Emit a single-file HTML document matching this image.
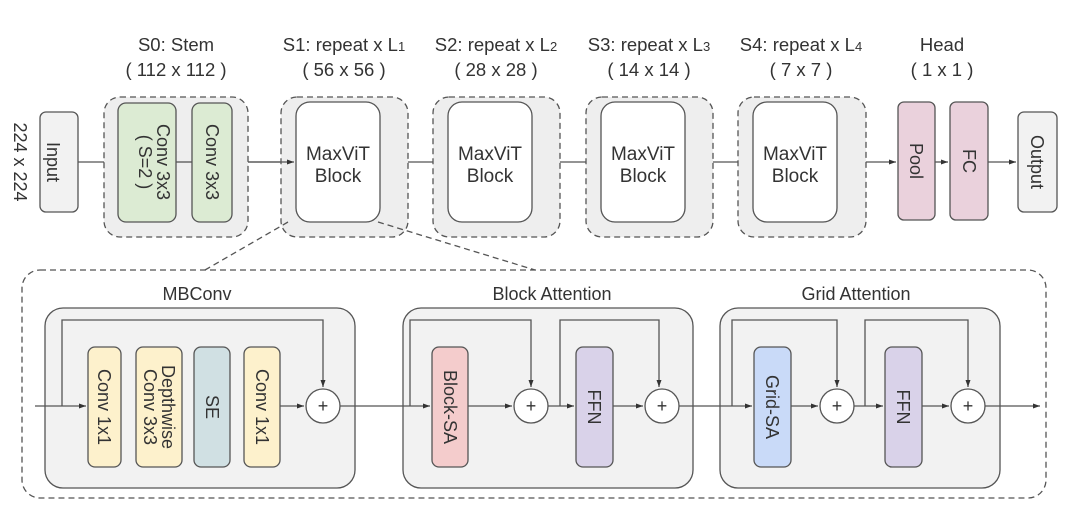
<!DOCTYPE html>
<html><head><meta charset="utf-8"><style>
html,body{margin:0;padding:0;background:#fff}
svg{display:block;font-family:"Liberation Sans",sans-serif}
</style></head><body>
<svg width="1080" height="522" viewBox="0 0 1080 522" xmlns="http://www.w3.org/2000/svg">
<defs><marker id="a" markerWidth="8" markerHeight="8" refX="7" refY="4" orient="auto" markerUnits="userSpaceOnUse"><path d="M0,1.5 L7,4 L0,6.5z" fill="#333"/></marker></defs>
<g font-size="18.5" fill="#333" text-anchor="middle">
<text x="176" y="51">S0: Stem</text><text x="176" y="76">( 112 x 112 )</text>
<text x="344" y="51">S1: repeat x L<tspan font-size="13">1</tspan></text><text x="344" y="76">( 56 x 56 )</text>
<text x="496" y="51">S2: repeat x L<tspan font-size="13">2</tspan></text><text x="496" y="76">( 28 x 28 )</text>
<text x="649" y="51">S3: repeat x L<tspan font-size="13">3</tspan></text><text x="649" y="76">( 14 x 14 )</text>
<text x="801" y="51">S4: repeat x L<tspan font-size="13">4</tspan></text><text x="801" y="76">( 7 x 7 )</text>
<text x="942" y="51">Head</text><text x="942" y="76">( 1 x 1 )</text>
</g>
<text x="0" y="0" font-size="18" fill="#333" text-anchor="middle" transform="translate(14,162) rotate(90)">224 x 224</text>
<g stroke="#555" stroke-width="1.3">
<line x1="78" y1="162" x2="896" y2="162" marker-end="url(#a)"/>
<line x1="988" y1="162" x2="1016" y2="162" marker-end="url(#a)"/>
<line x1="935" y1="162" x2="948" y2="162" marker-end="url(#a)"/>
<rect x="40" y="112" width="38" height="100" rx="6" fill="#f2f2f2"/>
<g fill="#eeeeee" stroke-dasharray="6,4">
<rect x="104" y="97" width="144" height="140" rx="16"/>
<rect x="281" y="97" width="127" height="140" rx="16"/>
<rect x="433" y="97" width="127" height="140" rx="16"/>
<rect x="586" y="97" width="127" height="140" rx="16"/>
<rect x="738" y="97" width="128" height="140" rx="16"/>
</g>
<line x1="176" y1="162" x2="192" y2="162"/>
<rect x="118" y="103" width="58" height="119" rx="8" fill="#dcebd3"/>
<rect x="192" y="103" width="40" height="119" rx="8" fill="#dcebd3"/>
<line x1="248" y1="162" x2="294" y2="162" marker-end="url(#a)"/>
<rect x="296" y="102" width="84" height="120" rx="14" fill="#fff"/>
<rect x="448" y="102" width="84" height="120" rx="14" fill="#fff"/>
<rect x="601" y="102" width="84" height="120" rx="14" fill="#fff"/>
<rect x="753" y="102" width="84" height="120" rx="14" fill="#fff"/>
<rect x="898" y="102" width="37" height="118" rx="6" fill="#ead1dc"/>
<rect x="950" y="102" width="38" height="118" rx="6" fill="#ead1dc"/>
<rect x="1018" y="112" width="39" height="100" rx="6" fill="#f2f2f2"/>
<g stroke-dasharray="6,4" fill="none">
<line x1="288" y1="222" x2="205" y2="270"/>
<line x1="378" y1="222" x2="535" y2="270"/>
<rect x="22" y="270" width="1024" height="228" rx="18" fill="none"/>
</g>
<rect x="45" y="308" width="310" height="180" rx="18" fill="#f2f2f2"/>
<rect x="403" y="308" width="290" height="180" rx="18" fill="#f2f2f2"/>
<rect x="720" y="308" width="280" height="180" rx="18" fill="#f2f2f2"/>
<g fill="none">
<line x1="35" y1="406" x2="86" y2="406" marker-end="url(#a)"/>
<polyline points="62,406 62,320 323,320 323,387" marker-end="url(#a)"/>
<line x1="280" y1="406" x2="304" y2="406" marker-end="url(#a)"/>
<line x1="340" y1="406" x2="430" y2="406" marker-end="url(#a)"/>
<polyline points="410,406 410,320 531,320 531,387" marker-end="url(#a)"/>
<line x1="468" y1="406" x2="512" y2="406" marker-end="url(#a)"/>
<line x1="548" y1="406" x2="574" y2="406" marker-end="url(#a)"/>
<polyline points="560,406 560,320 659,320 659,387" marker-end="url(#a)"/>
<line x1="613" y1="406" x2="643" y2="406" marker-end="url(#a)"/>
<line x1="679" y1="406" x2="752" y2="406" marker-end="url(#a)"/>
<polyline points="732,406 732,320 837,320 837,387" marker-end="url(#a)"/>
<line x1="791" y1="406" x2="818" y2="406" marker-end="url(#a)"/>
<line x1="854" y1="406" x2="883" y2="406" marker-end="url(#a)"/>
<polyline points="865,406 865,320 968,320 968,387" marker-end="url(#a)"/>
<line x1="922" y1="406" x2="949" y2="406" marker-end="url(#a)"/>
<line x1="985" y1="406" x2="1040" y2="406" marker-end="url(#a)"/>
</g>
<rect x="88" y="347" width="33" height="120" rx="7" fill="#fdf1cc"/>
<rect x="136" y="347" width="46" height="120" rx="7" fill="#fdf1cc"/>
<rect x="194" y="347" width="36" height="120" rx="7" fill="#d0e0e3"/>
<rect x="244" y="347" width="36" height="120" rx="7" fill="#fdf1cc"/>
<rect x="432" y="347" width="36" height="120" rx="7" fill="#f4cccc"/>
<rect x="576" y="347" width="37" height="120" rx="7" fill="#d9d2e9"/>
<rect x="754" y="347" width="37" height="120" rx="7" fill="#c9daf8"/>
<rect x="885" y="347" width="37" height="120" rx="7" fill="#d9d2e9"/>
<circle cx="323" cy="406" r="17" fill="#fff"/>
<circle cx="531" cy="406" r="17" fill="#fff"/>
<circle cx="662" cy="406" r="17" fill="#fff"/>
<circle cx="837" cy="406" r="17" fill="#fff"/>
<circle cx="968" cy="406" r="17" fill="#fff"/>
</g>
<g font-size="19" fill="#333" text-anchor="middle">
<text x="338" y="160">MaxViT</text><text x="338" y="182">Block</text>
<text x="490" y="160">MaxViT</text><text x="490" y="182">Block</text>
<text x="643" y="160">MaxViT</text><text x="643" y="182">Block</text>
<text x="795" y="160">MaxViT</text><text x="795" y="182">Block</text>
<text x="197" y="300" font-size="18">MBConv</text>
<text x="552" y="300" font-size="18">Block Attention</text>
<text x="856" y="300" font-size="18">Grid Attention</text>
<g font-size="18"><text x="323" y="412">+</text><text x="531" y="412">+</text><text x="662" y="412">+</text><text x="837" y="412">+</text><text x="968" y="412">+</text></g>
</g>
<g font-size="18" fill="#333" text-anchor="middle">
<text transform="translate(53,162) rotate(90)" y="6">Input</text>
<text transform="translate(153,162) rotate(90)" y="-4">Conv 3x3</text>
<text transform="translate(135,162) rotate(90)" y="-4">( S=2 )</text>
<text transform="translate(212,162) rotate(90)" y="6">Conv 3x3</text>
<text transform="translate(916,161) rotate(90)" y="6">Pool</text>
<text transform="translate(969,161) rotate(90)" y="6">FC</text>
<text transform="translate(1037,162) rotate(90)" y="6">Output</text>
<text transform="translate(104,407) rotate(90)" y="6">Conv 1x1</text>
<text transform="translate(159,407) rotate(90)" y="-3">Depthwise</text>
<text transform="translate(159,407) rotate(90)" y="15">Conv 3x3</text>
<text transform="translate(212,407) rotate(90)" y="6">SE</text>
<text transform="translate(262,407) rotate(90)" y="6">Conv 1x1</text>
<text transform="translate(450,407) rotate(90)" y="6">Block-SA</text>
<text transform="translate(594,407) rotate(90)" y="6">FFN</text>
<text transform="translate(772,407) rotate(90)" y="6">Grid-SA</text>
<text transform="translate(903,407) rotate(90)" y="6">FFN</text>
</g>
</svg>
</body></html>
